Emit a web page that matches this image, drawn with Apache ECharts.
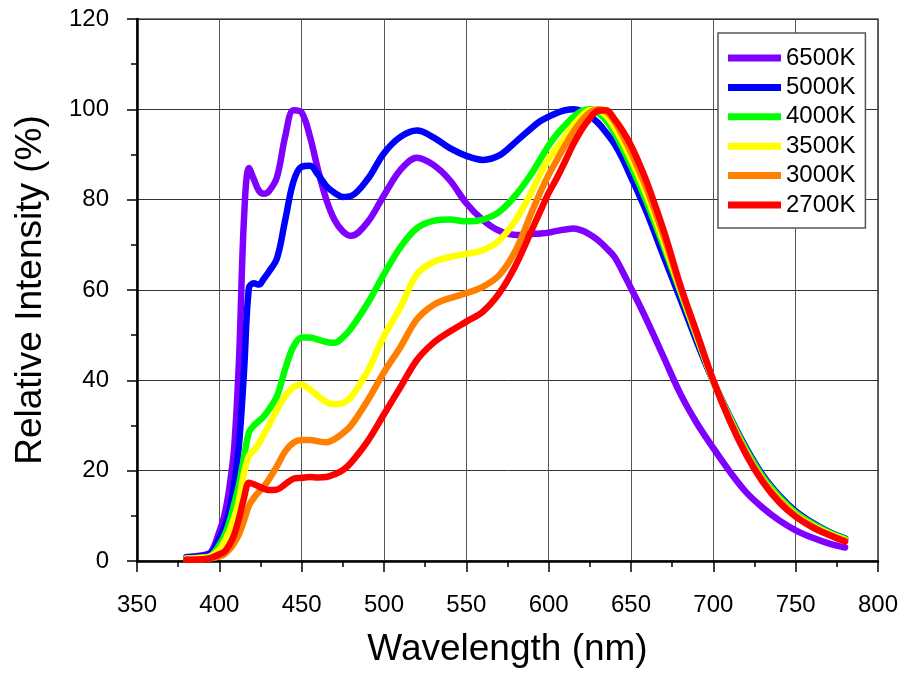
<!DOCTYPE html>
<html>
<head>
<meta charset="utf-8">
<script src="https://cdn.jsdelivr.net/npm/echarts@6/dist/echarts.min.js"></script>
<style>
html,body{margin:0;padding:0;background:#fff;}
#c{width:903px;height:676px;}
</style>
</head>
<body>
<div id="c"></div>
<script>
const wavelength = [380,390,395,400,403,406,409,412,415,418,421,424,427,430,435,440,445,450,455,460,465,470,475,480,490,500,510,520,530,540,550,560,570,580,590,595,600,605,610,615,620,625,630,635,640,645,650,655,660,670,680,690,700,710,720,730,740,750,760,770,780];

const k6500 = [0.9,1.3,2,6.5,10,16,25,45,76,87,84.5,82,81.3,81.8,85,94,99.8,99.3,94,86.5,80,75.5,73,72,75,81,86.6,89.3,87.7,84.3,79.2,75.5,73.1,72.2,72.4,72.5,72.7,73.1,73.4,73.6,73.2,72.3,71,69.3,67.3,64,60.4,56.8,53,45,37,30.5,25,19.8,15.2,11.8,9,6.8,5.2,3.9,3];
const k5000 = [0.8,1.1,1.7,5,7.5,11,17,26,42,60.5,61.5,61.2,62.5,64,67,75.5,84,87.3,87.5,85.5,83,81.5,80.6,80.8,84.5,90.3,93.9,95.3,93.8,91.4,89.7,88.8,89.8,92.8,96,97.4,98.4,99.2,99.8,100,99.6,98.5,97,94.8,92.3,89,85,81,76.8,67.3,58,48.5,39.7,32,25,19,14.5,11,8.5,6.5,5];
const k4000 = [0.6,0.8,1.2,3.5,5.5,8.5,12.5,17,23,28.5,30,31,32,33.5,36.5,42.5,47.5,49.5,49.5,49,48.5,48.3,49.5,51.5,57,63.5,69.5,73.7,75.3,75.6,75.2,75.6,77.3,81,86,89,92,94.5,96.5,98.3,99.6,100,99.3,97.5,94.8,91.3,87.5,83.4,79,69.5,59.5,49.5,39.7,31.8,24.6,18.6,14.2,10.7,8.3,6.4,4.9];
const k3500 = [0.5,0.7,1,2.5,4.2,6.5,9.5,13.5,19.5,23.3,24.5,26,28,30,33.5,36.5,38.5,39,38,36.5,35.2,34.7,35,36.3,42,49.8,56.2,63.5,66.2,67.3,68,68.8,71,75.5,82,85.7,89,91.5,94,96.5,98.5,99.8,99.8,98.5,96,92.7,89,84.9,80.5,70.5,60,49.8,39.8,31.4,24,18,13.6,10.2,7.9,6.1,4.7];
const k3000 = [0.3,0.4,0.6,1,1.5,2.5,4,6,9,12.3,14,15.3,16.5,18,21,24.3,26.2,26.8,26.8,26.5,26.3,27,28.3,30,35.5,41.8,47.4,53.5,56.7,58.2,59.3,60.7,63.3,68.8,77.5,81.7,85.5,88.8,92,95,97.5,99.3,100,99.5,97.3,94.1,90.5,86.4,82,71.8,60.5,50.2,39.9,31.2,23.8,17.8,13.4,10,7.7,5.9,4.5];
const k2700 = [0.3,0.4,0.7,1.5,2,3.5,5.8,9.5,14,17.3,17,16.5,16,15.7,15.8,17,18.2,18.4,18.6,18.5,18.6,19.2,20.1,21.8,26.5,32.5,38.5,44.5,48.3,50.8,53,55.2,59.3,65.5,73.5,77.5,81.5,84.8,88.5,92.3,95.5,98,99.7,99.8,97.8,95.2,92,88,83.5,73,61,50.5,40,31,23.5,17.5,13,9.8,7.5,5.8,4.3];

const seriesNames = ['6500K','5000K','4000K','3500K','3000K','2700K'];
const seriesValues = [k6500,k5000,k4000,k3500,k3000,k2700];
const seriesColors = ['#8000FF','#0000FF','#00FF00','#FFFF00','#FF8000','#FF0000'];

const FONT = 'Liberation Sans, Arial, sans-serif';
const chart = echarts.init(document.getElementById('c'), null, {renderer:'canvas'});

const series = seriesNames.map((name, i) => ({
  name: name,
  type: 'line',
  smooth: 0.35,
  showSymbol: false,
  symbol: 'none',
  data: wavelength.map((w, j) => [w, seriesValues[i][j]]),
  lineStyle: {width: 6.5, color: seriesColors[i], cap: 'round', join: 'round'},
  itemStyle: {color: seriesColors[i]},
  emphasis: {disabled: true},
  animation: false
}));

chart.setOption({
  animation: false,
  backgroundColor: '#fff',
  grid: {left: 137, right: 25, top: 19, bottom: 115, show: true, borderColor: '#000', borderWidth: 1.2, backgroundColor: 'transparent'},
  legend: {
    data: seriesNames,
    orient: 'vertical',
    left: 718, top: 33,
    padding: [13, 10, 11, 10],
    itemWidth: 53, itemHeight: 7,
    itemGap: 5.4,
    icon: 'rect',
    backgroundColor: '#fff',
    borderColor: '#555', borderWidth: 1.5,
    textStyle: {fontFamily: FONT, fontSize: 24, color: '#000', lineHeight: 24},
    selectedMode: false
  },
  xAxis: {
    type: 'value', min: 350, max: 800, interval: 50,
    name: 'Wavelength (nm)', nameLocation: 'middle', nameGap: 70,
    nameTextStyle: {fontFamily: FONT, fontSize: 37, color: '#000'},
    axisLine: {show: true, onZero: false, lineStyle: {color: '#000', width: 2.5}},
    axisTick: {show: true, length: 11, lineStyle: {color: '#000', width: 1.5}},
    minorTick: {show: true, splitNumber: 2, length: 6, lineStyle: {color: '#000', width: 1.5}},
    axisLabel: {fontFamily: FONT, fontSize: 24, color: '#000', margin: 32},
    splitLine: {show: true, lineStyle: {color: '#555', width: 1}}
  },
  yAxis: {
    type: 'value', min: 0, max: 120, interval: 20,
    name: 'Relative Intensity (%)', nameLocation: 'middle', nameGap: 88,
    nameTextStyle: {fontFamily: FONT, fontSize: 37, color: '#000'},
    axisLine: {show: true, onZero: false, lineStyle: {color: '#000', width: 2.5}},
    axisTick: {show: true, length: 10, lineStyle: {color: '#000', width: 1.5}},
    minorTick: {show: true, splitNumber: 2, length: 6, lineStyle: {color: '#000', width: 1.5}},
    axisLabel: {fontFamily: FONT, fontSize: 24, color: '#000', margin: 28},
    splitLine: {show: true, lineStyle: {color: '#333', width: 1}}
  },
  series: series
});
</script>
</body>
</html>
